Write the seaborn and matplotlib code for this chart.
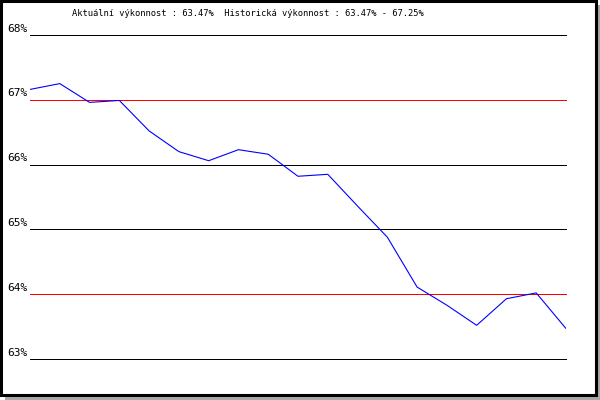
import matplotlib
matplotlib.use("Agg")
import matplotlib.pyplot as plt
from matplotlib.patches import Rectangle
import pandas as pd
import seaborn as sns

# Daily performance readings (%)
points = list(range(19))
performance = [67.16, 67.25, 66.96, 66.99, 66.52, 66.20, 66.06, 66.23, 66.16, 65.82,
               65.85, 65.36, 64.88, 64.11, 63.83, 63.52, 63.93, 64.02, 63.47]

grid_levels = [63, 64, 65, 66, 67, 68]
grid_colors = ["black", "red", "black", "black", "red", "black"]
grid_labels = ["63%", "64%", "65%", "66%", "67%", "68%"]

title_text = "Aktuální výkonnost : 63.47%  Historická výkonnost : 63.47% - 67.25%"

sns.set_theme(style="white")
plt.rcParams["font.family"] = ["DejaVu Sans Mono", "DejaVu Sans"]

df = pd.DataFrame({"point": points, "performance": performance})

fig = plt.figure(figsize=(6, 4), dpi=100)
fig.patch.set_facecolor("white")

# drop shadow and black frame
fig.add_artist(Rectangle((5 / 600, 0), 595 / 600, 395 / 400, transform=fig.transFigure,
                         facecolor="#a8a8a8", edgecolor="none", zorder=0))
fig.add_artist(Rectangle((1 / 600, 5 / 400), 595 / 600, 394 / 400, transform=fig.transFigure,
                         facecolor="white", edgecolor="black", linewidth=2.2, zorder=1))

ax = fig.add_axes([30 / 600, 1 - 359 / 400, 536 / 600, 324 / 400])
ax.set_facecolor("none")
ax.set_zorder(2)

for level, color, label in zip(grid_levels, grid_colors, grid_labels):
    ax.axhline(level, color=color, linewidth=0.72, antialiased=False, zorder=1, clip_on=False)
    ax.annotate(label, xy=(0, level), xycoords=("axes fraction", "data"),
                xytext=(-2, 1.0), textcoords="offset points",
                ha="right", va="bottom", fontsize=8, color="black")

sns.lineplot(data=df, x="point", y="performance", ax=ax, color="#0000ff",
             linewidth=0.8, zorder=2)

ax.set_xlim(0, 18)
ax.set_ylim(63, 68)
ax.set_xticks([])
ax.set_yticks([])
ax.set_xlabel(None)
ax.set_ylabel(None)
for spine in ax.spines.values():
    spine.set_visible(False)

fig.text(247.5 / 600, 1 - 14 / 400, title_text, ha="center", va="center",
         fontsize=6.3, color="black")

fig.savefig("out.png", dpi=100)
